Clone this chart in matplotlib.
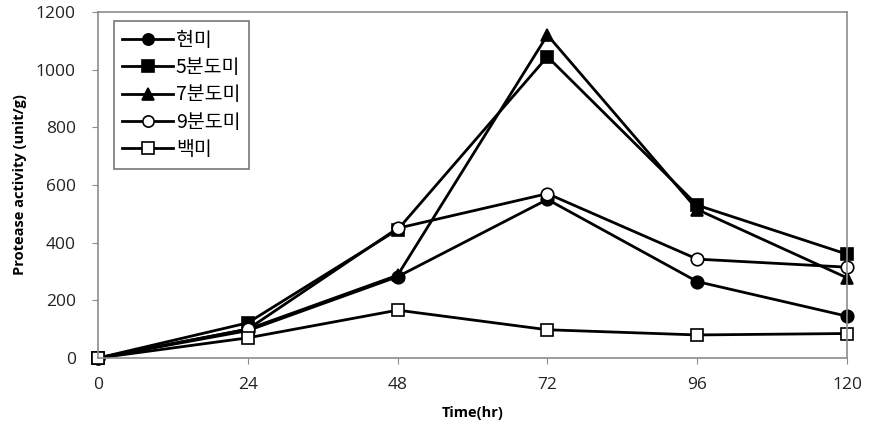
import matplotlib
matplotlib.use("Agg")
import matplotlib.pyplot as plt

plt.rcParams['font.family'] = ['Open Sans', 'Noto Sans CJK KR', 'DejaVu Sans']

# ------------------------------
# Data
# ------------------------------
hours = [0, 24, 48, 72, 96, 120]

hyunmi = [0, 95, 282, 550, 265, 145]        # 현미
bundo5 = [0, 122, 445, 1045, 530, 360]      # 5분도미
bundo7 = [0, 100, 287, 1120, 515, 278]      # 7분도미
bundo9 = [0, 100, 450, 570, 343, 315]       # 9분도미
baekmi = [0, 70, 166, 98, 80, 85]           # 백미

labels = ['현미', '5분도미', '7분도미', '9분도미', '백미']

# ------------------------------
# Plotting
# ------------------------------
fig = plt.figure(figsize=(8.71, 4.25), dpi=100)
ax = fig.add_axes([0.1125, 0.1576, 0.86, 0.8142])

styles = [
    (hyunmi, 'o', 'black', 9),
    (bundo5, 's', 'black', 9),
    (bundo7, '^', 'black', 9),
    (bundo9, 'o', 'white', 9),
    (baekmi, 's', 'white', 9),
]
for (vals, mk, fc, ms), lab in zip(styles, labels):
    ax.plot(hours, vals, color='black', lw=2, marker=mk, markersize=ms,
            markerfacecolor=fc, markeredgecolor='black', markeredgewidth=1.2,
            label=lab, clip_on=False)

ax.set_xlim(0, 120)
ax.set_ylim(0, 1200)
ax.set_xticks(hours)
ax.set_yticks(range(0, 1201, 200))

for sp in ax.spines.values():
    sp.set_color('#8c8c8c')
    sp.set_linewidth(1.2)

ax.tick_params(axis='both', colors='#8c8c8c', labelcolor='#222222',
               labelsize=12.5, length=4)
ax.tick_params(axis='x', pad=10)
ax.tick_params(axis='y', pad=12)

ax.set_xlabel('Time(hr)', fontsize=10.5, fontweight='bold', labelpad=9)
ax.set_ylabel('Protease activity (unit/g)', fontsize=10.5, fontweight='bold',
              labelpad=6)

leg = ax.legend(loc='upper left', bbox_to_anchor=(0.013, 0.99),
                prop={'family': ['Noto Sans CJK KR', 'DejaVu Sans'], 'size': 14},
                frameon=True, fancybox=False, handlelength=2.6,
                handletextpad=0.15, labelspacing=0.32, borderpad=0.45,
                borderaxespad=0.3, markerscale=0.9)
leg.get_frame().set_edgecolor('#555555')
leg.get_frame().set_linewidth(1.2)

fig.savefig('out.png', dpi=100)
